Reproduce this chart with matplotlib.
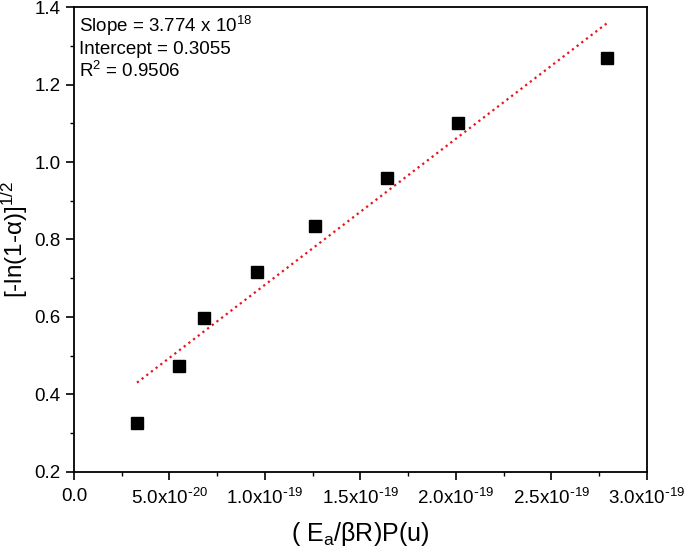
import matplotlib
matplotlib.use("Agg")
import matplotlib.pyplot as plt
from matplotlib.ticker import MultipleLocator, FixedLocator, FixedFormatter

plt.rcParams['font.family'] = ['Liberation Sans', 'DejaVu Sans']
plt.rcParams['mathtext.default'] = 'regular'

x_vals = [3.3e-20, 5.5e-20, 6.8e-20, 9.6e-20, 1.26e-19, 1.64e-19, 2.01e-19, 2.79e-19]
y_vals = [0.327, 0.474, 0.598, 0.717, 0.834, 0.958, 1.100, 1.268]
slope = 3.774e18
intercept = 0.3055
xticks = [0.0, 5.0e-20, 1.0e-19, 1.5e-19, 2.0e-19, 2.5e-19, 3.0e-19]
xtick_labels = ['0.0', r'5.0x10$^{\text{-}20}$', r'1.0x10$^{\text{-}19}$', r'1.5x10$^{\text{-}19}$',
                r'2.0x10$^{\text{-}19}$', r'2.5x10$^{\text{-}19}$', r'3.0x10$^{\text{-}19}$']
yticks = [0.2, 0.4, 0.6, 0.8, 1.0, 1.2, 1.4]

fig = plt.figure(figsize=(6.85, 5.53), dpi=100)
ax = fig.add_axes([0.108, 0.147, 0.8365, 0.840])

fit_x = [x_vals[0], x_vals[-1]]
fit_y = [intercept + slope * v for v in fit_x]
ax.plot(fit_x, fit_y, linestyle=':', color='#e8141c', linewidth=1.6)
ax.plot(x_vals, y_vals, linestyle='none', marker='s', markersize=8, color='black')

ax.set_xlim(0, 3.0e-19)
ax.set_ylim(0.2, 1.4)
ax.xaxis.set_major_locator(FixedLocator(xticks))
ax.xaxis.set_major_formatter(FixedFormatter(xtick_labels))
ax.xaxis.set_minor_locator(MultipleLocator(2.5e-20))
ax.yaxis.set_major_locator(FixedLocator(yticks))
ax.yaxis.set_major_formatter(FixedFormatter(['%.1f' % v for v in yticks]))
ax.yaxis.set_minor_locator(MultipleLocator(0.1))
ax.tick_params(which='major', direction='out', length=6, width=1.2, labelsize=13.5)
ax.tick_params(which='minor', direction='out', length=3, width=1.0)
ax.tick_params(axis='x', pad=6)
for s in ax.spines.values():
    s.set_linewidth(1.3)

ax.set_xlabel('( E$_a$/βR)P(u)', fontsize=18, labelpad=8)
ax.set_ylabel('[-ln(1-α)]$^{1/2}$', fontsize=17.5, labelpad=3)

ax.text(0.008, 0.985, 'Slope = 3.774 x 10$^{18}$\nIntercept = 0.3055\nR$^2$ = 0.9506',
        transform=ax.transAxes, ha='left', va='top', fontsize=13.5, linespacing=1.2)

fig.savefig('out.png', dpi=100)
